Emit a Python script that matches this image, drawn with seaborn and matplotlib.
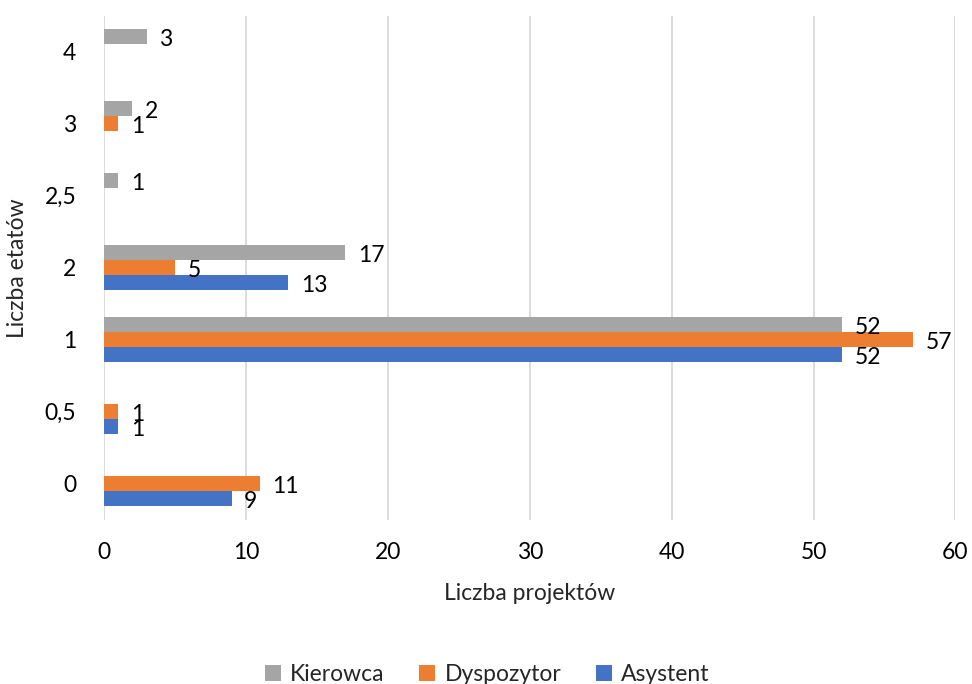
import pandas as pd
import numpy as np
import matplotlib.pyplot as plt
import seaborn as sns

# dane (kategorie od góry do dołu)
etaty = ['4', '3', '2,5', '2', '1', '0,5', '0']
kierowca = [3, 2, 1, 17, 52, 0, 0]
dyspozytor = [0, 1, 0, 5, 57, 1, 11]
asystent = [0, 0, 0, 13, 52, 1, 9]
serie = ['Kierowca', 'Dyspozytor', 'Asystent']
kolory = ['#A5A5A5', '#ED7D31', '#4472C4']

df = pd.DataFrame({
    'Liczba etatów': etaty * 3,
    'Liczba projektów': kierowca + dyspozytor + asystent,
    'Stanowisko': np.repeat(serie, len(etaty)),
})

sns.set_style('white')
plt.rcParams['font.family'] = ['Lato', 'DejaVu Sans']
fs = 16.5

fig = plt.figure(figsize=(9.72, 6.84), dpi=100)
ax = fig.add_axes([0.107, 0.24, 0.876, 0.737])

sns.barplot(data=df, y='Liczba etatów', x='Liczba projektów', hue='Stanowisko',
            order=etaty, hue_order=serie, palette=kolory, orient='h',
            width=0.62, saturation=1, errorbar=None, ax=ax, linewidth=0)

# etykiety danych (tylko niezerowe)
for cont in ax.containers:
    for bar in cont:
        w = bar.get_width()
        if w > 0:
            ax.annotate(f'{w:.0f}', (w, bar.get_y() + bar.get_height() / 2),
                        xytext=(9, -2), textcoords='offset points',
                        va='center', ha='left', fontsize=fs, color='#000000')

ax.set_xlim(0, 60)
ax.set_xticks(range(0, 61, 10))
ax.grid(axis='x', color='#d9d9d9', linewidth=1.3)
ax.set_axisbelow(True)
sns.despine(ax=ax, left=True, bottom=True)
ax.tick_params(axis='x', length=0, labelsize=fs, colors='#000000', pad=16)
ax.tick_params(axis='y', length=0, labelsize=fs, colors='#000000', pad=20)
ax.set_xlabel('Liczba projektów', fontsize=fs, labelpad=14)
ax.set_ylabel('Liczba etatów', fontsize=fs, labelpad=12)

ax.legend(loc='upper center', bbox_to_anchor=(0.45, -0.245), ncol=3,
          frameon=False, fontsize=fs, handlelength=0.7, handleheight=0.7,
          columnspacing=1.5, handletextpad=0.4)

plt.savefig('out.png', dpi=100)
